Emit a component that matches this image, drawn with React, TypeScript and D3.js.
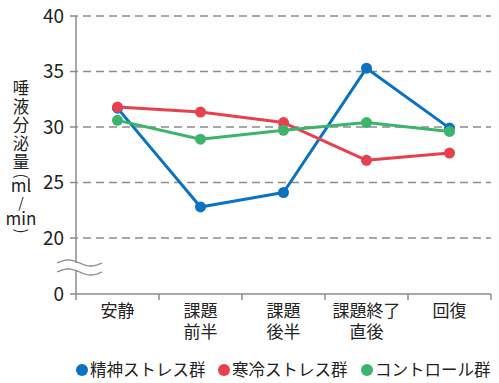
import React from "react";
import * as d3 from "d3";

const categories: string[][] = [["安静"], ["課題", "前半"], ["課題", "後半"], ["課題終了", "直後"], ["回復"]];
const mentalStress = [31.7, 22.8, 24.1, 35.3, 29.9];
const coldStress = [31.8, 31.35, 30.4, 27.0, 27.65];
const control = [30.6, 28.9, 29.7, 30.4, 29.6];
const yTicks = [20, 25, 30, 35, 40];
const seriesNames = ["精神ストレス群", "寒冷ストレス群", "コントロール群"];
const colors = ["#0a72c1", "#e8414e", "#3cb46b"];

const W = 499, H = 383;
const FONT = "'Noto Sans CJK JP', 'Noto Sans', sans-serif";

export default function App() {
  const x = d3.scaleBand<number>().domain(d3.range(categories.length)).range([76, 491]);
  const y = d3.scaleLinear().domain([20, 40]).range([238, 16]);
  const zeroY = 294;
  const axisColor = "#8c8c8c";
  const series = [mentalStress, coldStress, control];
  const line = d3
    .line<number>()
    .x((_, i) => x(i)! + x.bandwidth() / 2)
    .y((d) => y(d));

  const wave = (yy: number) => {
    const pts: [number, number][] = d3.range(0, 45.1, 1.5).map((t) => [57 + t, yy - 3 * Math.sin((t / 45) * 2 * Math.PI)]);
    return d3.line()(pts)!;
  };

  const labelChars = ["唾", "液", "分", "泌", "量"];

  return (
    <svg width={W} height={H} style={{ position: "absolute", left: 0, top: 0, background: "#fff" }} fontFamily={FONT}>
      {/* gridlines */}
      {yTicks.map((t) => (
        <g key={t}>
          <line x1={70} x2={491} y1={y(t)} y2={y(t)} stroke={axisColor} strokeWidth={1.3} strokeDasharray="8 5" />
          <text x={64} y={y(t)} dy="0.36em" textAnchor="end" fontSize={19} fill="#222">
            {t}
          </text>
        </g>
      ))}
      {/* y axis */}
      <line x1={76} x2={76} y1={16} y2={zeroY} stroke={axisColor} strokeWidth={1.5} />
      <line x1={70} x2={76} y1={zeroY} y2={zeroY} stroke={axisColor} strokeWidth={1.5} />
      <text x={64} y={zeroY} dy="0.36em" textAnchor="end" fontSize={19} fill="#222">0</text>
      {/* break */}
      <path d={`M55,${263}L100,${263}L100,${271}L55,${271}Z`} fill="#fff" stroke="none" />
      <path d={wave(263)} fill="none" stroke={axisColor} strokeWidth={1.3} />
      <path d={wave(272)} fill="none" stroke={axisColor} strokeWidth={1.3} />
      {/* x axis */}
      <line x1={76} x2={491} y1={zeroY} y2={zeroY} stroke={axisColor} strokeWidth={1.5} />
      {d3.range(categories.length + 1).map((i) => {
        const xx = i < categories.length ? x(i)! : 491;
        return <line key={i} x1={xx} x2={xx} y1={zeroY} y2={zeroY + 6} stroke={axisColor} strokeWidth={1.5} />;
      })}
      {categories.map((c, i) => (
        <text key={i} x={x(i)! + x.bandwidth() / 2} textAnchor="middle" fontSize={17} fill="#222">
          {c.map((s, j) => (
            <tspan key={j} x={x(i)! + x.bandwidth() / 2} y={317 + j * 21}>
              {s}
            </tspan>
          ))}
        </text>
      ))}
      {/* y label */}
      <text textAnchor="middle" fontSize={16.5} fill="#222">
        {labelChars.map((ch, i) => (
          <tspan key={ch} x={21} y={94 + i * 18.5}>
            {ch}
          </tspan>
        ))}
        <tspan x={21} y={192} fontSize={17}>ml</tspan>
        <tspan x={21} y={208} fontSize={14}>/</tspan>
        <tspan x={21} y={225} fontSize={17}>min</tspan>
      </text>
      <text transform="translate(21,176) rotate(90)" textAnchor="middle" dy="0.35em" fontSize={15} fill="#222">(</text>
      <text transform="translate(21,231) rotate(90)" textAnchor="middle" dy="0.35em" fontSize={15} fill="#222">)</text>
      {/* series */}
      {series.map((s, k) => (
        <g key={k}>
          <path d={line(s)!} fill="none" stroke={colors[k]} strokeWidth={3} strokeLinejoin="round" />
          {s.map((v, i) => (
            <circle key={i} cx={x(i)! + x.bandwidth() / 2} cy={y(v)} r={5.5} fill={colors[k]} />
          ))}
        </g>
      ))}
      {/* legend */}
      {seriesNames.map((n, k) => {
        const lx = [82, 224, 367][k];
        return (
          <g key={n}>
            <circle cx={lx} cy={370} r={6} fill={colors[k]} />
            <text x={lx + 8} y={370} dy="0.36em" fontSize={16.5} fill="#222">
              {n}
            </text>
          </g>
        );
      })}
    </svg>
  );
}
